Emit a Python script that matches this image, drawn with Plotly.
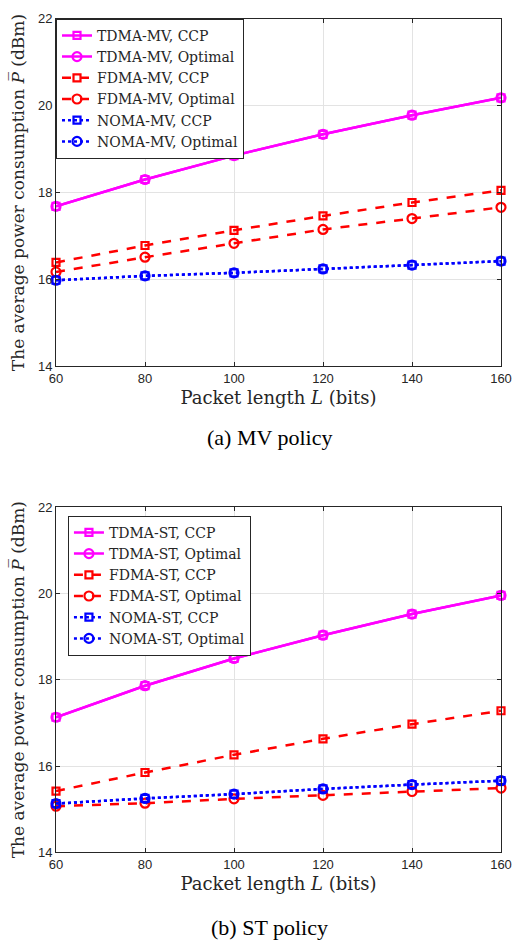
import plotly.graph_objects as go

L = [60, 80, 100, 120, 140, 160]

# (a) MV policy
tdma_mv_ccp = [17.68, 18.30, 18.85, 19.34, 19.78, 20.18]
tdma_mv_opt = [17.68, 18.30, 18.85, 19.34, 19.78, 20.18]
fdma_mv_ccp = [16.39, 16.78, 17.13, 17.46, 17.77, 18.05]
fdma_mv_opt = [16.17, 16.51, 16.83, 17.15, 17.40, 17.66]
noma_mv_ccp = [15.98, 16.08, 16.15, 16.24, 16.33, 16.42]
noma_mv_opt = [15.98, 16.08, 16.15, 16.24, 16.33, 16.42]

# (b) ST policy
tdma_st_ccp = [17.13, 17.86, 18.49, 19.03, 19.52, 19.95]
tdma_st_opt = [17.13, 17.86, 18.49, 19.03, 19.52, 19.95]
fdma_st_ccp = [15.42, 15.85, 16.26, 16.63, 16.97, 17.28]
fdma_st_opt = [15.07, 15.14, 15.24, 15.32, 15.41, 15.49]
noma_st_ccp = [15.13, 15.25, 15.35, 15.47, 15.57, 15.66]
noma_st_opt = [15.13, 15.25, 15.35, 15.47, 15.57, 15.66]

x_ticks = [60, 80, 100, 120, 140, 160]
y_ticks = [14, 16, 18, 20, 22]

SERIF = "DejaVu Serif, Liberation Serif, serif"
TIMES = "Liberation Serif, Times New Roman, serif"
SANS = "Liberation Sans, Arial, sans-serif"

fig = go.Figure()

styles = [
    ("#ff00ff", "solid", "square-open"),
    ("#ff00ff", "solid", "circle-open"),
    ("#ff0000", "dash", "square-open"),
    ("#ff0000", "dash", "circle-open"),
    ("#0000ff", "dot", "square-open"),
    ("#0000ff", "dot", "circle-open"),
]

def add_group(series, names, xa, ya, legend):
    for (vals, name, (col, dash, sym)) in zip(series, names, styles):
        fig.add_trace(go.Scatter(
            x=L, y=vals, name=name, mode="lines+markers",
            line=dict(color=col, dash=dash, width=2.5),
            marker=dict(symbol=sym, size=7 if "square" in sym else 9,
                        color=col, line=dict(color=col, width=2.2)),
            xaxis=xa, yaxis=ya, legend=legend, cliponaxis=False,
        ))

add_group([tdma_mv_ccp, tdma_mv_opt, fdma_mv_ccp, fdma_mv_opt, noma_mv_ccp, noma_mv_opt],
          ["TDMA-MV, CCP", "TDMA-MV, Optimal", "FDMA-MV, CCP", "FDMA-MV, Optimal",
           "NOMA-MV, CCP", "NOMA-MV, Optimal"], "x", "y", "legend")
add_group([tdma_st_ccp, tdma_st_opt, fdma_st_ccp, fdma_st_opt, noma_st_ccp, noma_st_opt],
          ["TDMA-ST, CCP", "TDMA-ST, Optimal", "FDMA-ST, CCP", "FDMA-ST, Optimal",
           "NOMA-ST, CCP", "NOMA-ST, Optimal"], "x2", "y2", "legend2")

W, H = 512, 947
def py(v):  # window pixel y -> paper fraction
    return 1 - v / H

top_dom = [py(365), py(12)]
bot_dom = [py(859), py(508)]
PLOT_W = 503 - 56

ytitle = "The average power consumption <i>P̅</i> (dBm)"
xtitle = "Packet length <i>L</i> (bits)"

def xaxis(anchor):
    return dict(range=[60, 160], tickvals=x_ticks, anchor=anchor, domain=[0, 1],
                showgrid=True, gridcolor="#e3e3e3", gridwidth=1,
                showline=True, linecolor="#262626", linewidth=1, mirror="ticks",
                ticks="inside", ticklen=4, tickcolor="#262626",
                ticklabeloverflow="allow",
                tickfont=dict(family=SANS, size=13, color="#262626"),
                title=dict(text=xtitle, font=dict(family=SERIF, size=18, color="#262626"),
                           standoff=6),
                zeroline=False)

def yaxis(anchor, dom):
    return dict(range=[14, 22], tickvals=y_ticks, anchor=anchor, domain=dom,
                showgrid=True, gridcolor="#e3e3e3", gridwidth=1,
                showline=True, linecolor="#262626", linewidth=1, mirror="ticks",
                ticks="inside", ticklen=4, tickcolor="#262626",
                ticklabeloverflow="allow",
                tickfont=dict(family=SANS, size=13, color="#262626"),
                title=dict(text=ytitle, font=dict(family=SERIF, size=17, color="#262626"),
                           standoff=8),
                zeroline=False)

legend_common = dict(
    xanchor="left", yanchor="top",
    bgcolor="white", bordercolor="#262626", borderwidth=1,
    font=dict(family=SERIF, size=14, color="#262626"),
    tracegroupgap=0,
)

fig.update_layout(
    width=W, height=H,
    margin=dict(l=56, r=W - 503, t=0, b=0),
    paper_bgcolor="white", plot_bgcolor="white",
    xaxis=xaxis("y"), yaxis=yaxis("x", top_dom),
    xaxis2=xaxis("y2"), yaxis2=yaxis("x2", bot_dom),
    legend=dict(x=0, y=top_dom[1], **legend_common),
    legend2=dict(x=12 / PLOT_W, y=py(517), **legend_common),
    annotations=[
        dict(text="(a) MV policy", xref="paper", yref="paper", x=(270 - 56) / PLOT_W,
             y=py(437), yanchor="middle", showarrow=False,
             font=dict(family=TIMES, size=22, color="black")),
        dict(text="(b) ST policy", xref="paper", yref="paper", x=(270 - 56) / PLOT_W,
             y=py(935), yanchor="middle", showarrow=False,
             font=dict(family=TIMES, size=22, color="black")),
    ],
)

fig.write_html(
    "out.html",
    config={"displayModeBar": False},
    post_script="document.documentElement.style.margin='0';"
                "document.body.style.margin='0';"
                "document.body.style.overflow='hidden';"
                "document.documentElement.style.overflow='hidden';",
)
